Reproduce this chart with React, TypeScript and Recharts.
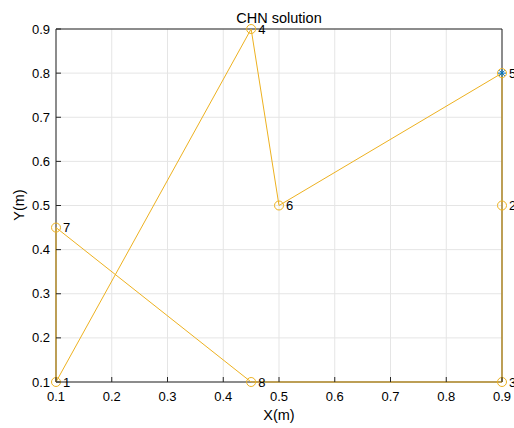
import { ScatterChart, Scatter, XAxis, YAxis, CartesianGrid, ReferenceLine, LabelList } from 'recharts'

const nodeIds = [1, 2, 3, 4, 5, 6, 7, 8]
const nodeX = [0.1, 0.9, 0.9, 0.45, 0.9, 0.5, 0.1, 0.45]
const nodeY = [0.1, 0.5, 0.1, 0.9, 0.8, 0.5, 0.45, 0.1]
const route = [1, 4, 6, 5, 2, 3, 8, 7, 1]
const sinkId = 5
const axisTicks = [0.1, 0.2, 0.3, 0.4, 0.5, 0.6, 0.7, 0.8, 0.9]

const ORANGE = '#EDB120'
const BLUE = '#0072BD'
const AXIS = '#262626'
const FONT = '"Liberation Sans", Arial, sans-serif'

const nodes = nodeIds.map((id, i) => ({ id, x: nodeX[i], y: nodeY[i] }))
const path = route.map(id => nodes[id - 1])
const sink = nodes.filter(n => n.id === sinkId)

const XTick = (props: any) => {
  const { x, y, payload } = props
  return (
    <g>
      <line x1={x} x2={x} y1={y} y2={y - 5} stroke={AXIS} />
      <text x={x} y={y + 19} textAnchor="middle" fontSize={13} fill="#000" fontFamily={FONT}>
        {payload.value}
      </text>
    </g>
  )
}

const YTick = (props: any) => {
  const { x, y, payload } = props
  return (
    <g>
      <line x1={x} x2={x + 5} y1={y} y2={y} stroke={AXIS} />
      <text x={x - 6} y={y + 4.5} textAnchor="end" fontSize={13} fill="#000" fontFamily={FONT}>
        {payload.value}
      </text>
    </g>
  )
}

const Ring = (props: any) => (
  <circle cx={props.cx} cy={props.cy} r={4.5} fill="none" stroke={ORANGE} strokeWidth={1} />
)

const Asterisk = (props: any) => {
  const { cx, cy } = props
  const r = 4
  const d = r * 0.7
  return (
    <g stroke={BLUE} strokeWidth={1}>
      <line x1={cx - r} x2={cx + r} y1={cy} y2={cy} />
      <line x1={cx} x2={cx} y1={cy - r} y2={cy + r} />
      <line x1={cx - d} x2={cx + d} y1={cy - d} y2={cy + d} />
      <line x1={cx - d} x2={cx + d} y1={cy + d} y2={cy - d} />
    </g>
  )
}

const NoDot = () => <g />

const NodeLabel = (props: any) => {
  const { x, y, width, height, value } = props
  const cx = x + (width || 0) / 2
  const cy = y + (height || 0) / 2
  return (
    <text x={cx + 7} y={cy + 4.5} fontSize={13} fill="#000" fontFamily={FONT}>
      {value}
    </text>
  )
}

const labelStyle = {
  position: 'absolute' as const,
  fontFamily: FONT,
  fontSize: 14.5,
  lineHeight: '14.5px',
  color: '#000',
  whiteSpace: 'nowrap' as const,
}

export default function App() {
  return (
    <div style={{ position: 'absolute', left: 0, top: 0, width: 514, height: 428, background: '#fff' }}>
      <div style={{ ...labelStyle, left: 56, width: 446, top: 10.5, textAlign: 'center' }}>
        CHN solution
      </div>
      <div style={{ ...labelStyle, left: 56, width: 446, top: 407.5, textAlign: 'center' }}>
        X(m)
      </div>
      <div
        style={{
          ...labelStyle, left: 19, top: 205,
          transform: 'translate(-50%, -50%) rotate(-90deg)',
        }}
      >
        Y(m)
      </div>
      <ScatterChart
        width={514}
        height={428}
        margin={{ top: 29, right: 12, left: 0, bottom: 0 }}
        style={{ position: 'absolute', left: 0, top: 0 }}
      >
        <CartesianGrid stroke="#e5e5e5" strokeWidth={1} />
        <XAxis
          type="number"
          dataKey="x"
          domain={[0.1, 0.9]}
          ticks={axisTicks}
          interval={0}
          height={46}
          stroke={AXIS}
          tickLine={false}
          tickSize={0}
          tickMargin={0}
          tick={<XTick />}
        />
        <YAxis
          type="number"
          dataKey="y"
          domain={[0.1, 0.9]}
          ticks={axisTicks}
          interval={0}
          width={56}
          stroke={AXIS}
          tickLine={false}
          tickSize={0}
          tickMargin={0}
          tick={<YTick />}
        />
        <ReferenceLine x={0.9} stroke={AXIS} strokeWidth={1} ifOverflow="visible" />
        <ReferenceLine y={0.9} stroke={AXIS} strokeWidth={1} ifOverflow="visible" />
        <Scatter
          data={path}
          line={{ stroke: ORANGE, strokeWidth: 1 }}
          lineType="joint"
          shape={<NoDot />}
          isAnimationActive={false}
        />
        <Scatter data={nodes} shape={<Ring />} isAnimationActive={false}>
          <LabelList dataKey="id" content={<NodeLabel />} />
        </Scatter>
        <Scatter data={sink} shape={<Asterisk />} isAnimationActive={false} />
      </ScatterChart>
    </div>
  )
}
